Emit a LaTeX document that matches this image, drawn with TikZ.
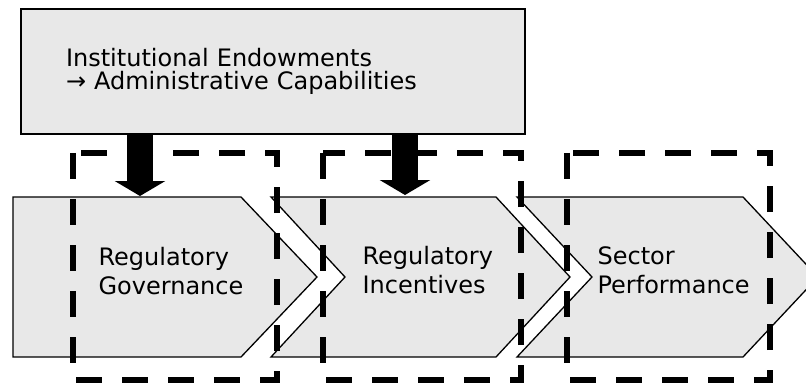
\documentclass[tikz,border=0pt]{standalone}
\usepackage{fontspec}
\setmainfont{DejaVu Sans}
\usetikzlibrary{arrows.meta}
\definecolor{cfill}{HTML}{E8E8E8}
\tikzset{
  every picture/.style={line width=1.2pt},
  box/.style={draw, fill=cfill, line width=2pt, align=left, inner xsep=45pt, text width=414pt, minimum height=125pt, font=\fontsize{24}{23.5}\selectfont},
  stage/.style={draw, fill=cfill, line width=1.3pt, line join=miter},
  lbl/.style={anchor=west, inner sep=0pt, align=left, font=\fontsize{24}{29}\selectfont},
  push/.style={-{Triangle[width=50pt, length=15pt]}, line width=26pt},
  zone/.style={draw, line width=6.5pt, dash pattern=on 26pt off 20pt},
}
\begin{document}
\begin{tikzpicture}[x=1pt, y=-1pt]
  \useasboundingbox (0,0) rectangle (806,385);
  \node[box] (inst) at (273,71.5) {Institutional Endowments\\→ Administrative Capabilities};
  % chevrons for the three stages
  \draw[stage] (13,197) -- (241,197) -- (317,277) -- (241,357) -- (13,357) -- cycle;
  \draw[stage] (271,197) -- (496,197) -- (570,277) -- (496,357) -- (271,357) -- (345,277) -- cycle;
  \draw[stage] (517,197) -- (743,197) -- (818,277) -- (743,357) -- (517,357) -- (592,277) -- cycle;
  \node[lbl] (gov) at (98,271) {Regulatory\\Governance};
  \node[lbl] (inc) at (362,270) {Regulatory\\Incentives};
  \node[lbl] (perf) at (597,270) {Sector\\Performance};
  \coordinate (govtop) at (140,196);
  \coordinate (inctop) at (405,195);
  \draw[push] (inst.south -| govtop) -- (govtop);
  \draw[push] (inst.south -| inctop) -- (inctop);
  % dashed groupings
  \foreach \xa/\xb in {73/277, 323/521, 567/770}
    \draw[zone] (\xa,153) rectangle (\xb,380);
\end{tikzpicture}
\end{document}
